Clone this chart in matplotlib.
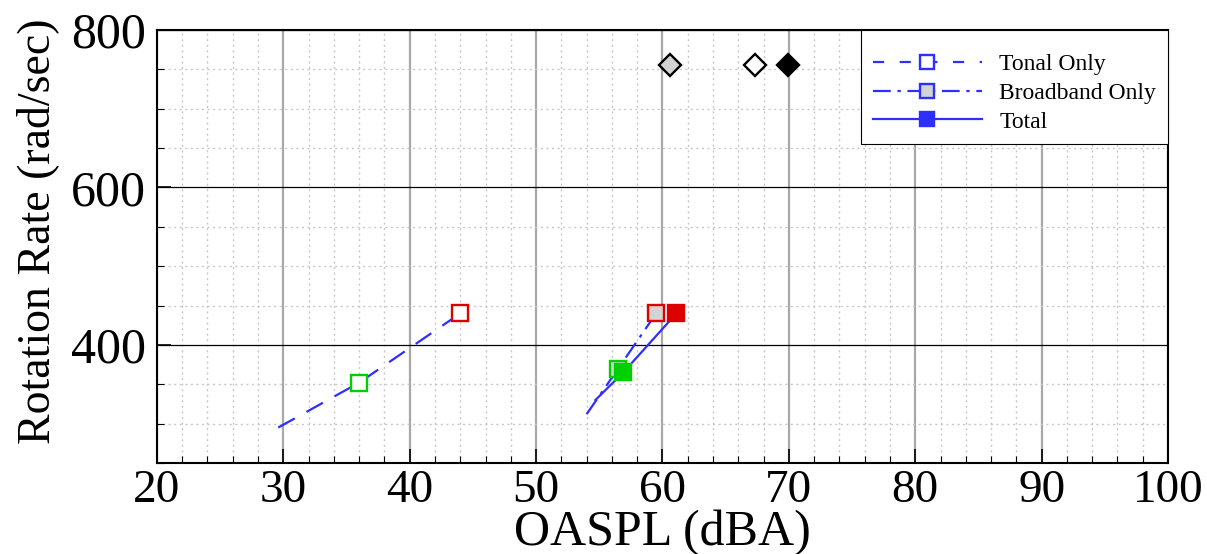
import matplotlib
matplotlib.use("Agg")
import matplotlib.pyplot as plt
from matplotlib.ticker import MultipleLocator

# OASPL (dBA) vs rotation rate (rad/sec)
tonal_x = [29.6, 36.0, 44.0]
tonal_y = [295, 352, 440]
broad_x = [54.0, 56.5, 59.5]
broad_y = [312, 370, 440]
total_x = [54.7, 56.9, 61.1]
total_y = [330, 365, 440]

# marker points at the two rotation rates (low = green, high = red)
tonal_pts_x = [36.0, 44.0]
tonal_pts_y = [352, 440]
broad_pts_x = [56.5, 59.5]
broad_pts_y = [370, 440]
total_pts_x = [56.9, 61.1]
total_pts_y = [365, 440]
pt_colors = ["#00d000", "#dd0000"]

# diamond points at 755 rad/sec
dia_x = [60.6, 67.3, 69.9]
dia_y = [755, 755, 755]
dia_fill = ["#d3d3d3", "white", "black"]

plt.rcParams["font.family"] = ["Liberation Serif", "DejaVu Serif"]

fig = plt.figure(figsize=(12.07, 5.54), dpi=100)
ax = fig.add_axes([0.130, 0.1643, 0.8377, 0.7815])

blue = "#2e2eff"
tonal_ls = (0, (8.5, 6))
broad_ls = (0, (8, 3, 1.5, 3))
ax.plot(tonal_x, tonal_y, color=blue, lw=1.6, linestyle=tonal_ls, zorder=3)
ax.plot(broad_x, broad_y, color=blue, lw=1.6, linestyle=broad_ls, zorder=3)
ax.plot(total_x, total_y, color=blue, lw=1.6, zorder=3)

for x, y, c in zip(tonal_pts_x, tonal_pts_y, pt_colors):
    ax.plot(x, y, marker="s", ms=11.5, mfc="white", mec=c, mew=1.7, ls="none", zorder=4)
for x, y, c in zip(broad_pts_x, broad_pts_y, pt_colors):
    ax.plot(x, y, marker="s", ms=11.5, mfc="#d3d3d3", mec=c, mew=1.7, ls="none", zorder=4)
for x, y, c in zip(total_pts_x, total_pts_y, pt_colors):
    ax.plot(x, y, marker="s", ms=11.5, mfc=c, mec=c, mew=1.7, ls="none", zorder=5)

for x, y, f in zip(dia_x, dia_y, dia_fill):
    ax.plot(x, y, marker="D", ms=11, mfc=f, mec="black", mew=1.7, ls="none", zorder=4)

ax.set_xlim(20, 100)
ax.set_ylim(250, 800)
ax.xaxis.set_major_locator(MultipleLocator(10))
ax.xaxis.set_minor_locator(MultipleLocator(2))
ax.set_yticks([400, 600, 800])
ax.yaxis.set_minor_locator(MultipleLocator(50))

ax.grid(which="minor", color="#c8c8c8", lw=1.0, ls=(0, (1.5, 2.5)))
ax.grid(which="major", axis="x", color="#a8a8a8", lw=1.6)
ax.grid(which="major", axis="y", color="black", lw=0.9)
ax.set_axisbelow(True)

ax.tick_params(which="major", direction="in", length=10, width=1.2)
ax.tick_params(which="minor", direction="in", length=5, width=0.8)
ax.tick_params(axis="x", which="major", labelsize=34, pad=5)
ax.tick_params(axis="y", which="major", labelsize=36, pad=8)
for s in ax.spines.values():
    s.set_linewidth(1.5)

ax.set_xlabel("OASPL (dBA)", fontsize=36, labelpad=-2)
ax.set_ylabel("Rotation Rate (rad/sec)", fontsize=33)
ax.yaxis.set_label_coords(-0.097, 0.535)

h1, = ax.plot([], [], color=blue, lw=1.6, linestyle=(0, (5, 7)), marker="s", ms=10, mfc="white", mec=blue, mew=1.7)
h2, = ax.plot([], [], color=blue, lw=1.6, linestyle=broad_ls, marker="s", ms=10, mfc="#d3d3d3", mec=blue, mew=1.7)
h3, = ax.plot([], [], color=blue, lw=1.6, marker="s", ms=10, mfc=blue, mec=blue, mew=1.7)
leg = ax.legend([h1, h2, h3], ["Tonal Only", "Broadband Only", "Total"], loc="upper right",
                fontsize=17, handlelength=4.6, labelspacing=0.3, borderaxespad=0.0,
                fancybox=False, framealpha=1, edgecolor="black", borderpad=0.5,
                handletextpad=0.75, title=" ", title_fontsize=4)
leg.get_frame().set_linewidth(0.8)

fig.savefig("out.png", dpi=100)
